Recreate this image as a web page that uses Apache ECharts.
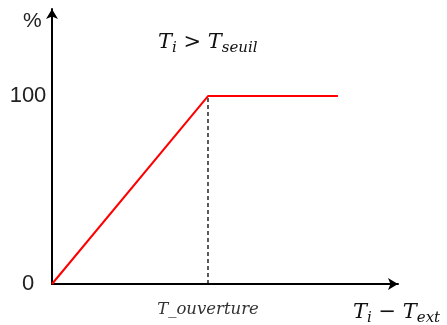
<!DOCTYPE html>
<html>
<head>
<meta charset="utf-8">
<script src="https://cdn.jsdelivr.net/npm/echarts@6/dist/echarts.min.js"></script>
<style>
  html, body { margin: 0; padding: 0; background: #fff; }
  #main { width: 447px; height: 325px; }
</style>
</head>
<body>
<div id="main"></div>
<script>
// donnees
var xOuverture = 10;           // T_ouverture
var xFin = 18.33;              // fin du palier
var xMax = 22.18;
var yMax = 146.3;
var yTicks = [0, 100];
var xCategories = ['T_ouverture'];
var ouverture = [[0, 0], [xOuverture, 100], [xFin, 100]];   // % d'ouverture
var repere = [[xOuverture, 0], [xOuverture, 100]];           // trait pointille

var mathFont = 'DejaVu Serif';

var myChart = echarts.init(document.getElementById('main'));

var formule = {
  m: { fontFamily: mathFont, fontStyle: 'italic', fontWeight: 'normal', fontSize: 21, lineHeight: 26, color: '#111' },
  o: { fontFamily: mathFont, fontWeight: 'normal', fontSize: 21, lineHeight: 26, color: '#111' },
  s: { fontFamily: mathFont, fontStyle: 'italic', fontWeight: 'normal', fontSize: 15, lineHeight: 15, padding: [11, 0, 0, 0], color: '#111' }
};

var option = {
  backgroundColor: '#ffffff',
  animation: false,
  title: [
    {
      text: '%',
      left: 18, top: 6,
      textStyle: { fontFamily: 'Liberation Sans', fontSize: 21, fontWeight: 'normal', color: '#222' }
    },
    {
      text: '{m|T}{s|i}{o| > }{m|T}{s|seuil}',
      left: 153, top: 25,
      textStyle: { fontWeight: 'normal', rich: formule }
    },
    {
      text: '{m|T}{s|i}{o| − }{m|T}{s|ext}',
      left: 348, top: 295,
      textStyle: { fontWeight: 'normal', rich: formule }
    }
  ],
  grid: { left: 52, right: 49, top: 9, bottom: 41, containLabel: false },
  xAxis: {
    type: 'value',
    min: 0, max: xMax, interval: xOuverture,
    splitLine: { show: false },
    axisTick: { show: false },
    axisLine: {
      onZero: false,
      symbol: ['none', 'arrow'], symbolSize: [9, 10],
      lineStyle: { color: '#000', width: 2 }
    },
    axisLabel: {
      margin: 17,
      fontFamily: mathFont, fontStyle: 'italic', fontSize: 16.5, color: '#333',
      showMaxLabel: false,
      formatter: function (v) { return v === xOuverture ? xCategories[0] : ''; }
    }
  },
  yAxis: {
    type: 'value',
    min: 0, max: yMax, interval: 100,
    splitLine: { show: false },
    axisTick: { show: false },
    axisLine: {
      onZero: false,
      symbol: ['none', 'arrow'], symbolSize: [9, 10],
      lineStyle: { color: '#000', width: 2 }
    },
    axisLabel: {
      margin: 24, align: 'center',
      fontFamily: 'Liberation Sans', fontSize: 22, color: '#222',
      showMaxLabel: false,
      formatter: function (v) { return yTicks.indexOf(v) >= 0 ? String(v) : ''; }
    }
  },
  series: [
    {
      type: 'line',
      data: repere,
      symbol: 'none',
      lineStyle: { color: '#000', width: 1.3, type: [4, 3] },
      z: 1
    },
    {
      type: 'line',
      data: ouverture,
      symbol: 'none',
      lineStyle: { color: '#ff0000', width: 2 },
      z: 2
    }
  ]
};

myChart.setOption(option);
</script>
</body>
</html>
